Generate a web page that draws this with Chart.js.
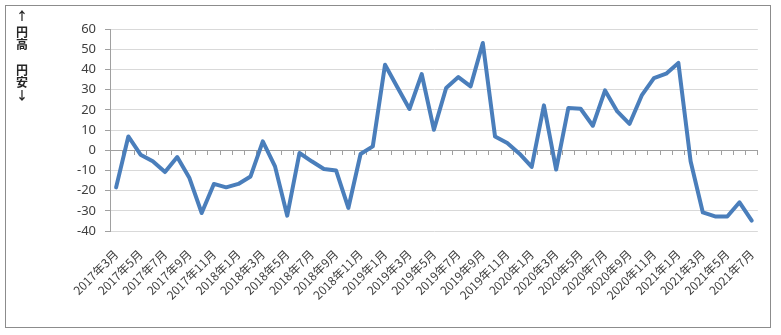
<!DOCTYPE html>
<html>
<head>
<meta charset="utf-8">
<script src="https://cdn.jsdelivr.net/npm/chart.js@4/dist/chart.umd.min.js"></script>
<style>
  body { margin: 0; background: #fff; }
  #frame { position: absolute; left: 5px; top: 5px; width: 764px; height: 321px; border: 1px solid #8c8c8c; }
  #frame canvas { position: absolute; left: 0; top: 0; }
  .side { position: absolute; left: 9px; width: 14px; text-align: center; font: bold 12px "Noto Sans CJK JP"; line-height: 12px; color: #262626; }
</style>
</head>
<body>
<div id="frame">
  <canvas id="rateChart" width="764" height="321"></canvas>
  <div class="side" style="top:4px">↑</div>
  <div class="side" style="top:20px">円</div>
  <div class="side" style="top:32px">高</div>
  <div class="side" style="top:58px">円</div>
  <div class="side" style="top:70px">安</div>
  <div class="side" style="top:83px">↓</div>
</div>
<script>
// 2017年3月 .. 2021年7月, one point per month
const startYear = 2017;
const startMonth = 3;
const monthCount = 53;
const months = [];
for (let i = 0; i < monthCount; i++) {
  const m = startMonth - 1 + i;
  months.push(`${startYear + Math.floor(m / 12)}年${(m % 12) + 1}月`);
}

const rateIndex = [
  -18.4, 6.8, -2.2, -5.5, -10.8, -3.4, -13.8, -31.1, -16.7, -18.4,
  -16.7, -13.0, 4.4, -8.0, -32.4, -1.4, -5.5, -9.3, -10.1, -28.6,
  -1.9, 1.9, 42.3, 31.3, 20.4, 37.7, 10.1, 30.8, 36.2, 31.6,
  53.1, 6.8, 3.6, -1.7, -8.3, 22.2, -9.6, 20.9, 20.5, 12.1,
  29.6, 19.2, 13.0, 27.1, 35.7, 37.9, 43.2, -5.5, -30.8, -32.8,
  -32.8, -25.8, -34.9
];

const yMin = -40;
const yMax = 60;
const yStep = 10;

const axisGray = "#a0a0a0";
const textGray = "#404040";

const ctx = document.getElementById("rateChart").getContext("2d");
new Chart(ctx, {
  type: "line",
  data: {
    labels: months,
    datasets: [{
      data: rateIndex,
      borderColor: "#4a7ebb",
      borderWidth: 4,
      pointRadius: 0,
      tension: 0,
      borderJoinStyle: "round",
      borderCapStyle: "round",
    }],
  },
  options: {
    responsive: false,
    animation: false,
    layout: { padding: { left: 59, right: 10, top: 23, bottom: 0 } },
    plugins: { legend: { display: false }, tooltip: { enabled: false } },
    scales: {
      x: {
        position: "bottom",
        offset: true,
        grid: { display: false },
        border: { display: false },
        ticks: {
          autoSkip: false,
          maxRotation: 45,
          minRotation: 45,
          padding: 8,
          color: textGray,
          font: { family: "Noto Sans CJK JP", size: 12 },
          callback: (v, i) => (i % 2 === 0 ? months[i] : ""),
        },
        afterFit: (scale) => { scale.height = 96; },
      },
      // axis line through zero with small ticks between months
      zero: {
        axis: "x",
        type: "category",
        labels: months,
        position: { y: 0 },
        offset: true,
        grid: { drawOnChartArea: false, offset: true, tickLength: 4, color: axisGray },
        border: { color: axisGray },
        ticks: { display: false },
      },
      y: {
        min: yMin,
        max: yMax,
        ticks: {
          stepSize: yStep,
          padding: 9,
          color: textGray,
          font: { family: "Noto Sans", size: 13 },
        },
        grid: { color: "#d9d9d9", tickLength: 5, tickColor: axisGray },
        border: { color: axisGray },
        afterFit: (scale) => { scale.width = 45; },
      },
    },
  },
});
</script>
</body>
</html>
